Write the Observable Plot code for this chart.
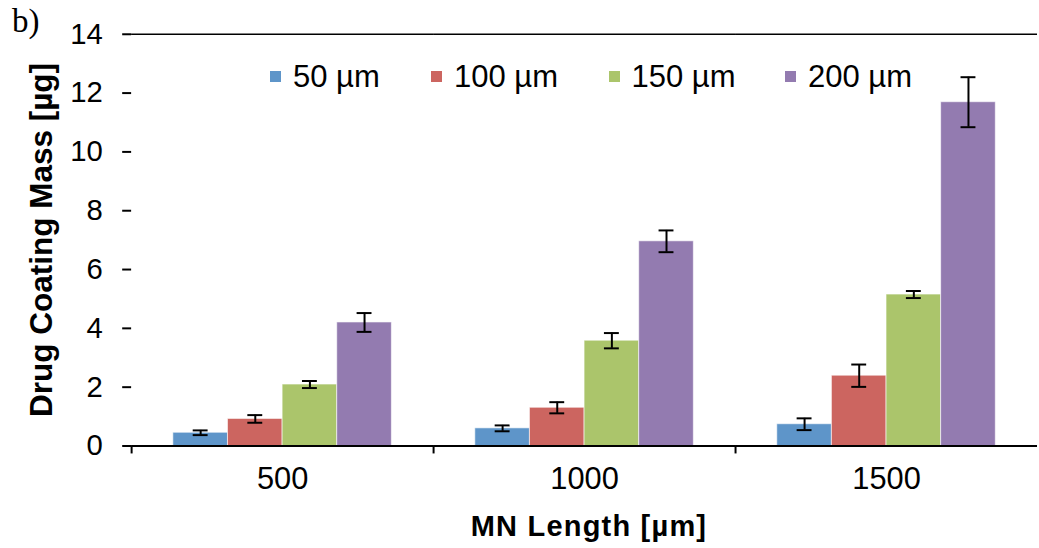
<!DOCTYPE html>
<html>
<head>
<meta charset="utf-8">
<script src="https://cdn.jsdelivr.net/npm/d3@7"></script>
<script src="https://cdn.jsdelivr.net/npm/@observablehq/plot@0.6"></script>
<style>
  html, body { margin: 0; padding: 0; background: #fff; overflow: hidden; }
  #wrap { position: relative; width: 1039px; height: 548px; overflow: hidden; font-family: "Liberation Sans", Arial, sans-serif; }
  #chart { position: absolute; left: 0; top: 0; }
  .ov { position: absolute; line-height: 1; white-space: nowrap; color: #000; }
  .sw { position: absolute; width: 11px; height: 11px; }
</style>
</head>
<body>
<div id="wrap">
  <div id="chart"></div>
  <div class="ov" style="left:12px; top:5px; font-family:'Liberation Serif','Times New Roman',serif; font-size:33px;">b)</div>
  <div id="ytitle" class="ov" style="font-weight:bold; font-size:31.5px; left:42px; top:240px; transform:translate(-50%,-50%) rotate(-90deg);">Drug Coating Mass [µg]</div>
  <div id="xtitle" class="ov" style="font-weight:bold; font-size:29px; letter-spacing:1.2px; left:589px; top:512.2px; transform:translateX(-50%);">MN Length [µm]</div>
  <div id="legend"></div>
</div>
<script>
// ---- data ----
const lengths = ["500", "1000", "1500"];
const series = ["50 µm", "100 µm", "150 µm", "200 µm"];
const colors = ["#5e95c9", "#cc6560", "#abc56b", "#937bb0"];
const mean50 = [0.45, 0.60, 0.74];
const mean100 = [0.92, 1.30, 2.39];
const mean150 = [2.09, 3.58, 5.15];
const mean200 = [4.20, 6.96, 11.69];
const err50 = [0.08, 0.10, 0.20];
const err100 = [0.13, 0.19, 0.38];
const err150 = [0.12, 0.26, 0.12];
const err200 = [0.32, 0.37, 0.85];
const yTicks = [0, 2, 4, 6, 8, 10, 12, 14];

const means = [mean50, mean100, mean150, mean200];
const errs = [err50, err100, err150, err200];
const rows = [];
lengths.forEach((len, i) => {
  series.forEach((s, j) => {
    rows.push({length: len, series: s, mean: means[j][i], err: errs[j][i]});
  });
});

const chart = Plot.plot({
  width: 1046,
  height: 548,
  marginLeft: 132,
  marginRight: 2,
  marginTop: 34,
  marginBottom: 99.5,
  style: {fontFamily: "'Liberation Sans', Arial, sans-serif", color: "#000", background: "transparent"},
  fx: {domain: lengths, padding: 0, label: null},
  x: {domain: series, paddingInner: 0, paddingOuter: 0.74, axis: null},
  y: {domain: [0, 14]},
  color: {domain: series, range: colors},
  marks: [
    Plot.barY(rows, {fx: "length", x: "series", y: "mean", fill: "series", stroke: "#fff", strokeOpacity: 0.6, strokeWidth: 1}),
    Plot.ruleX(rows, {fx: "length", x: "series", y1: d => d.mean - d.err, y2: d => d.mean + d.err, stroke: "#000", strokeWidth: 2}),
    Plot.tickY(rows, {fx: "length", x: "series", y: d => d.mean - d.err, insetLeft: 20, insetRight: 20, stroke: "#000", strokeWidth: 2}),
    Plot.tickY(rows, {fx: "length", x: "series", y: d => d.mean + d.err, insetLeft: 20, insetRight: 20, stroke: "#000", strokeWidth: 2}),
    Plot.ruleY([0], {stroke: "#000", strokeWidth: 2}),
    Plot.ruleY([14], {stroke: "#000", strokeWidth: 1.5}),
    Plot.axisY({ticks: yTicks, tickSize: 9, tickPadding: 20, fontSize: 29.5, line: true, label: null, strokeWidth: 2, tickFormat: d => String(d)}),
    Plot.axisFx({anchor: "bottom", tickSize: 0, tickPadding: 21.5, fontSize: 31, label: null}),
    Plot.axisFx({anchor: "bottom", tickSize: 8, tickPadding: 0, tickFormat: () => "", dx: -152, label: null, strokeWidth: 2})
  ]
});
document.getElementById("chart").appendChild(chart);

// legend
const legendLefts = [270, 431, 608.5, 785];
const legend = document.getElementById("legend");
series.forEach((s, i) => {
  const sw = document.createElement("div");
  sw.className = "sw";
  sw.style.left = legendLefts[i] + "px";
  sw.style.top = "70.5px";
  sw.style.background = colors[i];
  legend.appendChild(sw);
  const t = document.createElement("div");
  t.className = "ov";
  t.style.left = (legendLefts[i] + 23) + "px";
  t.style.top = "60.9px";
  t.style.fontSize = "31px";
  t.textContent = s;
  legend.appendChild(t);
});
</script>
</body>
</html>
